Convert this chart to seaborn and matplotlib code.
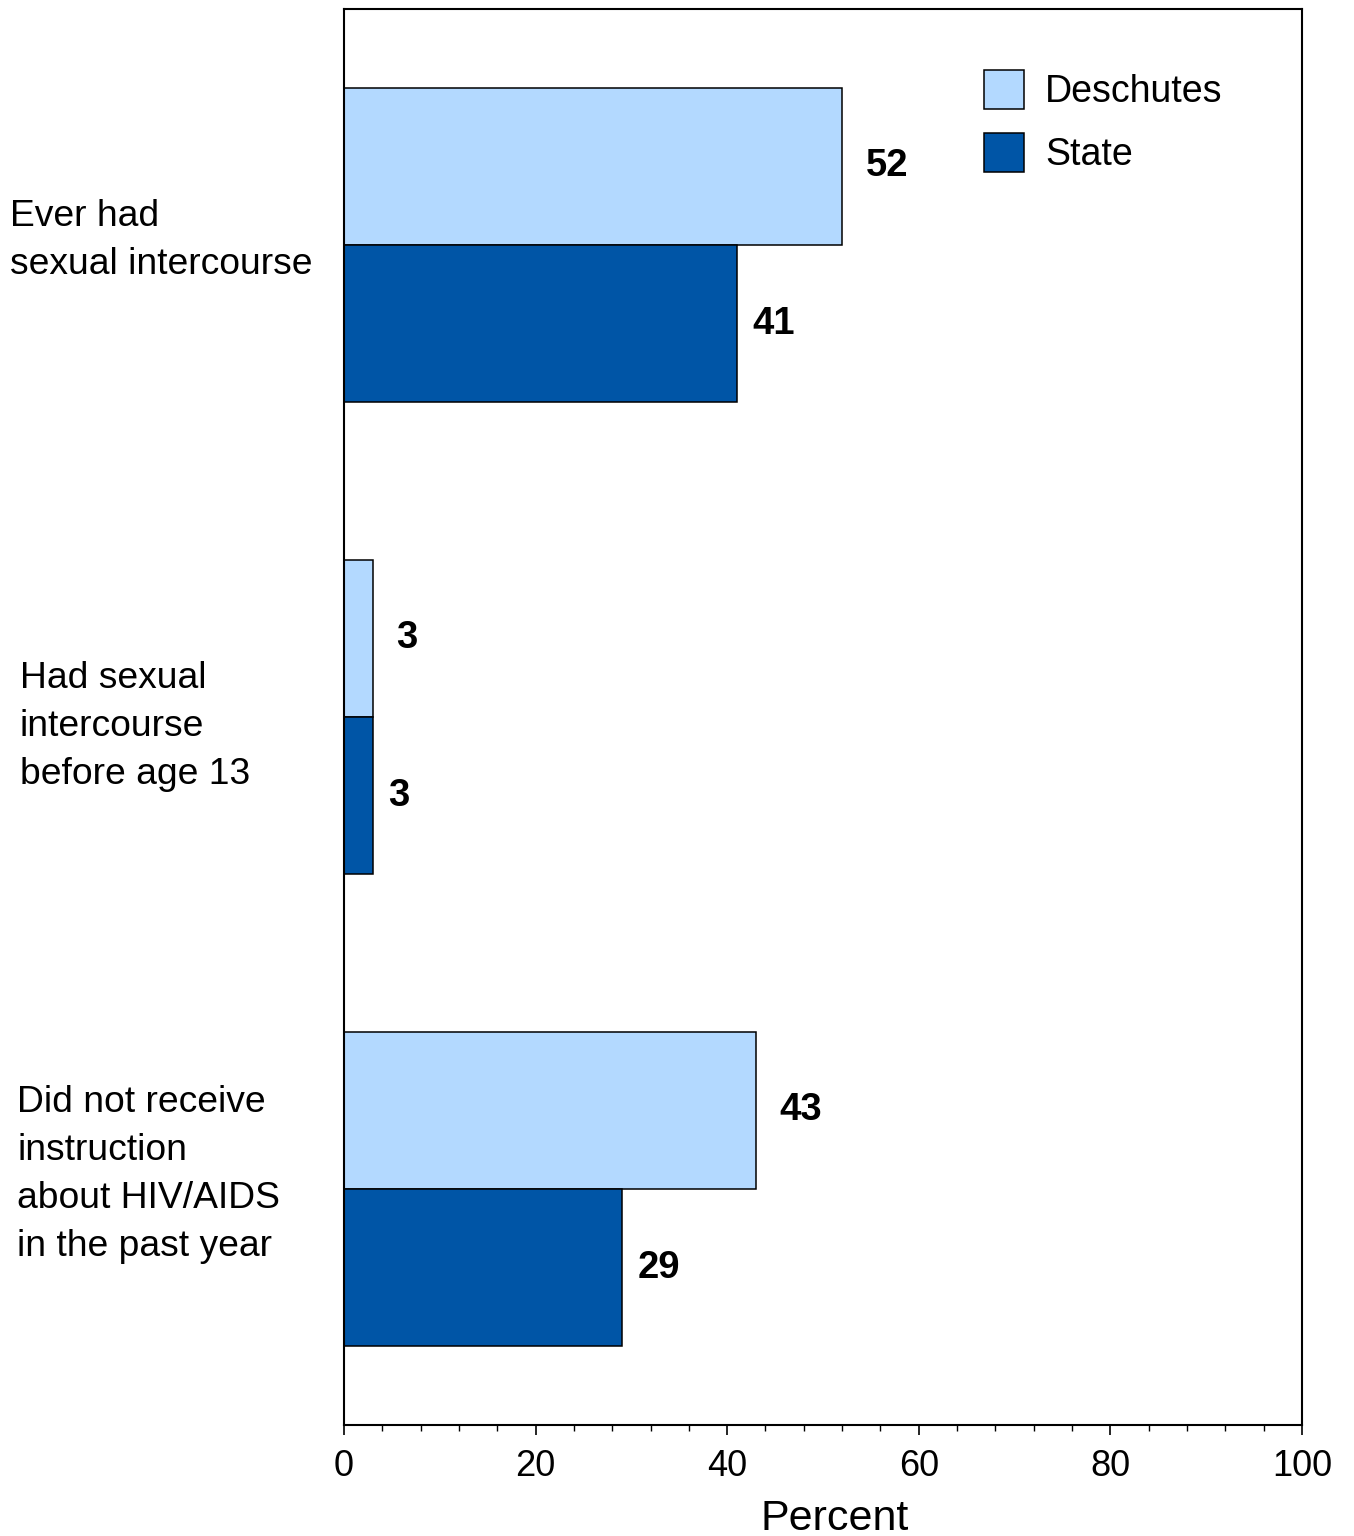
import matplotlib
matplotlib.use('Agg')
import matplotlib.pyplot as plt
import matplotlib.transforms as mtransforms
import seaborn as sns
import pandas as pd
from matplotlib.ticker import MultipleLocator

categories = ['Ever had\nsexual intercourse',
              'Had sexual\nintercourse\nbefore age 13',
              'Did not receive\ninstruction\nabout HIV/AIDS\nin the past year']
groups = ['Deschutes', 'State']
deschutes = [52, 3, 43]
state = [41, 3, 29]
colors = ['#B3D9FF', '#0055A6']

df = pd.DataFrame({
    'category': categories * 2,
    'group': [groups[0]] * 3 + [groups[1]] * 3,
    'value': deschutes + state,
})

sns.set_theme(style='white')
plt.rcParams['font.family'] = ['Liberation Sans', 'DejaVu Sans']
plt.rcParams['text.color'] = 'black'
plt.rcParams['xtick.color'] = 'black'
plt.rcParams['axes.labelcolor'] = 'black'

fig = plt.figure(figsize=(13.54, 15.36), dpi=100)
ax = fig.add_axes([0.254, 0.0723, 0.7076, 0.9218])

sns.barplot(data=df, y='category', x='value', hue='group', orient='h',
            palette=colors, saturation=1, edgecolor='black', linewidth=1.1,
            width=0.667, ax=ax)

# value labels, different offsets per series
for cont, pad in zip(ax.containers, [17, 11.5]):
    ax.bar_label(cont, fmt='%d', padding=pad, fontsize=27.5,
                 fontweight='bold', color='black')

ax.set_xlim(0, 100)
ax.set_ylim(2.5, -0.5)
ax.xaxis.set_major_locator(MultipleLocator(20))
ax.xaxis.set_minor_locator(MultipleLocator(4))
ax.tick_params(axis='x', which='major', direction='out', length=7,
               width=1.2, labelsize=26, pad=10, bottom=True, top=False,
               color='black')
ax.tick_params(axis='x', which='minor', direction='out', length=4,
               width=1, bottom=True, top=False, color='black')
ax.tick_params(axis='y', left=False)
ax.set_yticks(range(len(categories)))
ax.set_yticklabels([])
ax.set_ylabel('')
ax.set_xlabel('Percent', fontsize=31, labelpad=14)
ax.xaxis.set_label_coords(0.5125, -0.052)
ax.xaxis.label.set_va('top')

for s in ax.spines.values():
    s.set_visible(True)
    s.set_color('black')
    s.set_linewidth(1.5)

# category labels, left aligned near figure edge
label_x = [10, 20, 17]
label_dy = [-0.01, 0.02, -0.03]
trans = mtransforms.blended_transform_factory(fig.transFigure, ax.transData)
for i, (lab, x, dy) in enumerate(zip(categories, label_x, label_dy)):
    ax.text(x / 1354, i + dy, lab, transform=trans,
            ha='left', va='center', fontsize=26.8, linespacing=1.48)

handles, labels = ax.get_legend_handles_labels()
if ax.get_legend() is not None:
    ax.get_legend().remove()
ax.legend(handles, labels, loc='upper left', bbox_to_anchor=(0.668, 0.957),
          frameon=False, fontsize=27, handlelength=1.07, handleheight=1.22,
          handletextpad=0.56, labelspacing=0.62, borderpad=0, borderaxespad=0)

fig.savefig('out.png', dpi=100)
